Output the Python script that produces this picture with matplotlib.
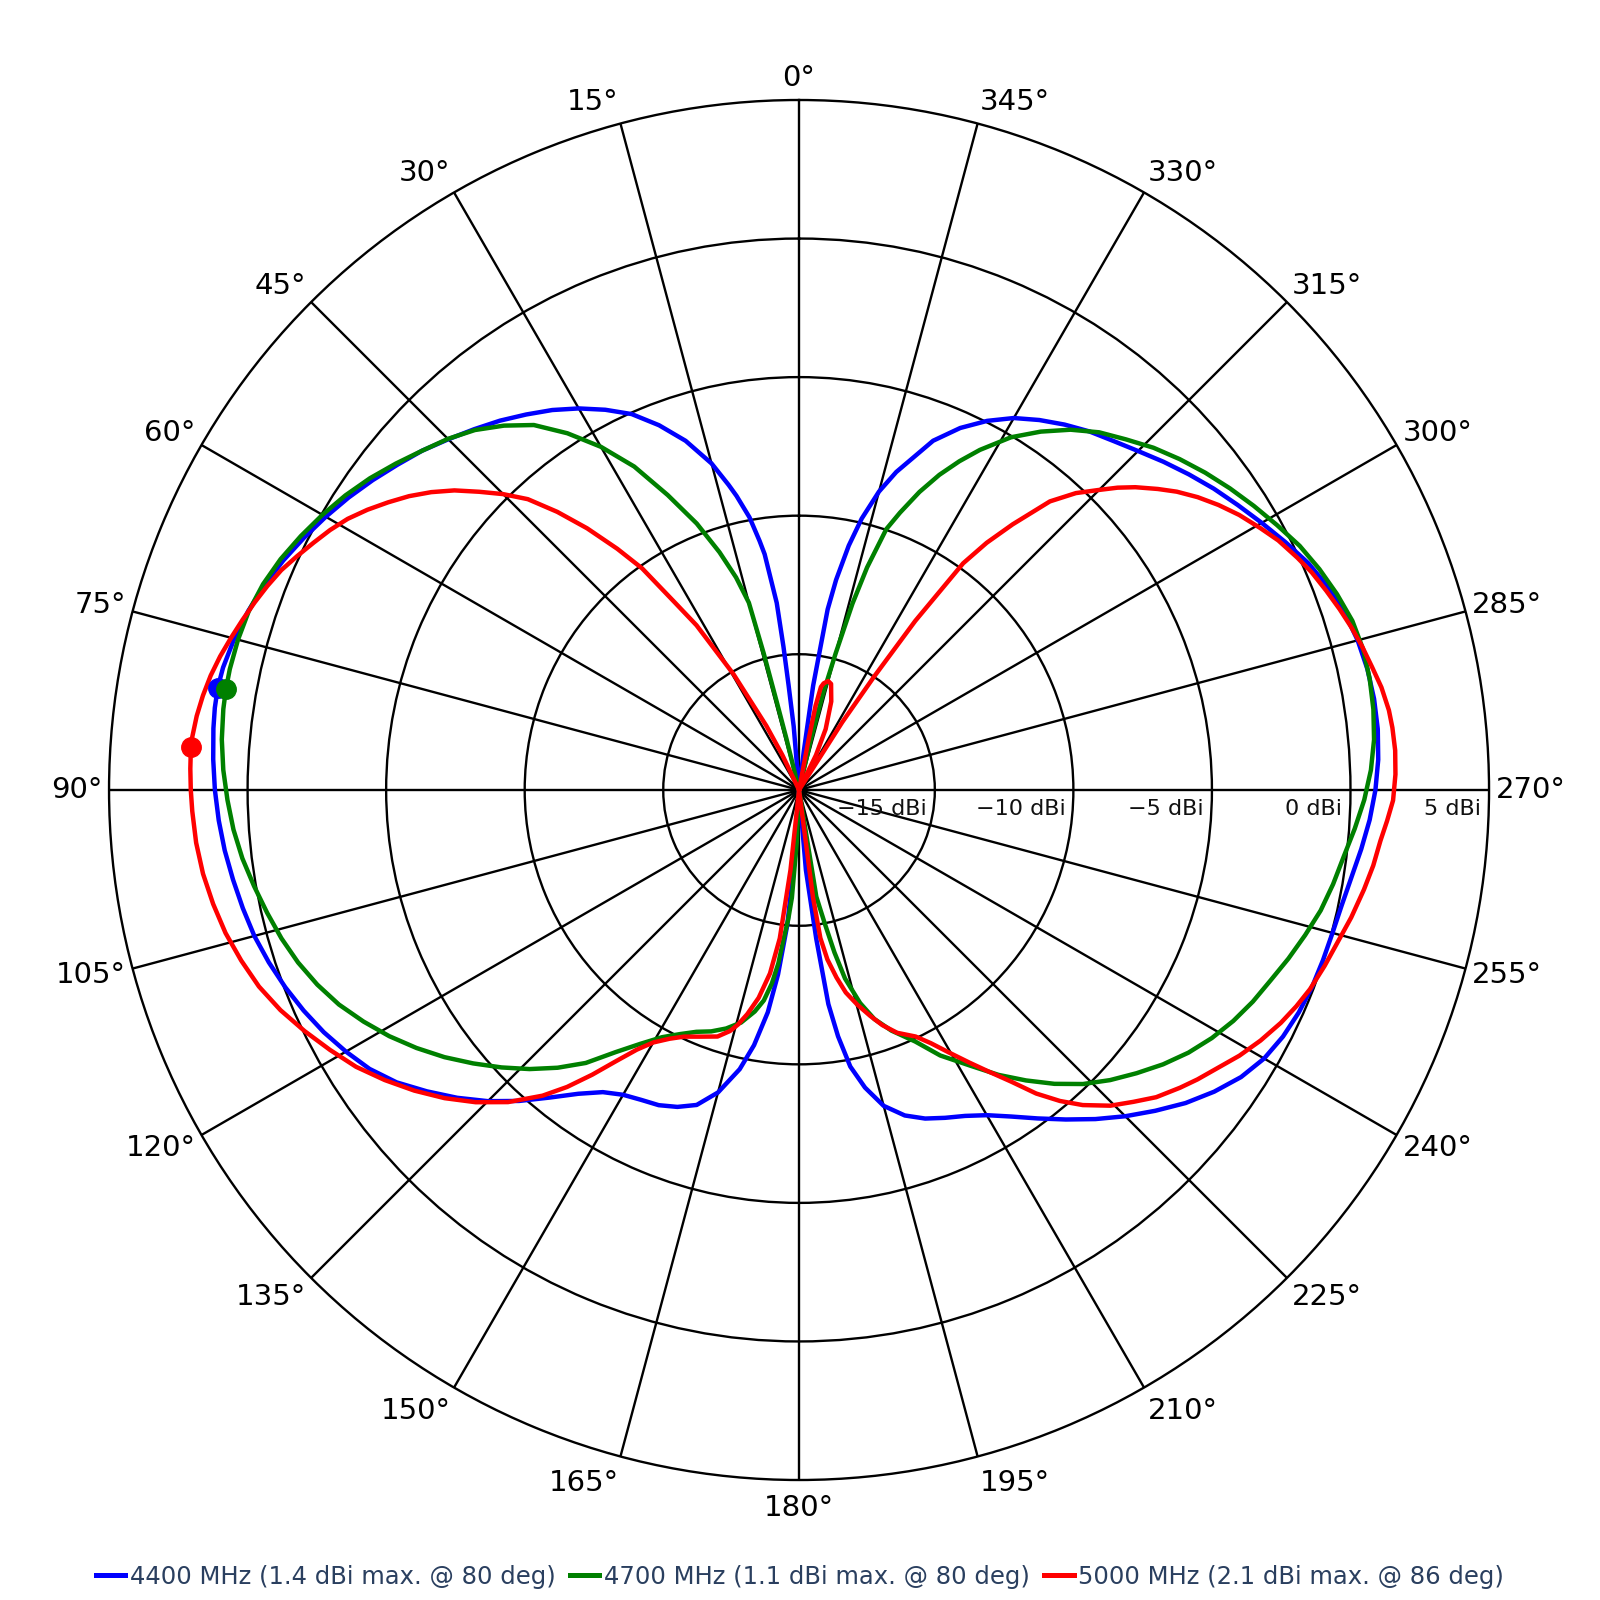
import numpy as np
import matplotlib
matplotlib.use("Agg")
import matplotlib.pyplot as plt
from matplotlib.lines import Line2D

# ---------------- data (angle in degrees, gain in dBi) ----------------
theta_4400 = [0, 4.0, 4.8, 5.7, 6.2, 6.8, 8.3, 9, 10.3, 12, 13.0, 15, 18, 21, 24, 27, 30, 33, 36,
              39, 42, 45, 48, 51, 54, 57, 60, 63, 66, 69, 72, 75, 78, 80, 82, 84, 87, 90, 93,
              96, 99, 102, 105, 108, 111, 114, 117, 120, 123, 126, 129, 132, 135, 138, 141,
              144, 147, 150, 153, 156, 159, 162, 165, 168, 170, 172, 173.5, 175, 176.5, 177.5,
              182.5, 184.9, 186.6, 187.8, 189, 190.5, 192.5, 195, 198, 201, 204, 207, 210, 213,
              216, 219, 222, 225, 228, 231, 234, 237, 240, 243, 246, 249, 252, 255, 258, 261,
              264, 267, 270, 273, 276, 279, 282, 285, 288, 291, 294, 297, 300, 303, 306, 309,
              312, 315, 318, 321, 324, 327, 330, 333, 336, 339, 341, 343, 345, 347, 348.5, 350,
              351, 352.3, 353, 354, 360]
gain_4400 = [-19.9, -19.9, -17.6, -16.1, -14.7, -13.1, -11.3, -10.8, -9.9, -9.05, -8.6, -7.7,
             -6.65, -5.8, -5.05, -4.5, -4.0, -3.55, -3.15, -2.75, -2.38, -2.0, -1.6, -1.25,
             -0.88, -0.52, -0.18, 0.15, 0.47, 0.76, 1.0, 1.2, 1.35, 1.4, 1.39, 1.35, 1.27,
             1.18, 1.07, 0.94, 0.78, 0.62, 0.45, 0.22, -0.04, -0.33, -0.65, -1.02, -1.42,
             -1.95, -2.62, -3.3, -4.02, -4.8, -5.62, -6.35, -6.9, -7.2, -7.35, -7.45, -7.65,
             -7.95, -8.6, -9.6, -10.55, -11.8, -13.2, -15.0, -17.5, -19.9,
             -19.9, -17.0, -14.5, -12.1, -10.9, -9.75, -8.9, -8.1, -7.55, -7.2, -6.95, -6.7,
             -6.35, -5.85, -5.25, -4.6, -3.92, -3.25, -2.6, -1.95, -1.38, -0.88, -0.52, -0.3,
             -0.16, -0.07, -0.02, 0.03, 0.12, 0.28, 0.5, 0.72, 0.9, 1.03, 1.1, 1.11, 1.07,
             0.97, 0.8, 0.55, 0.22, -0.2, -0.62, -1.02, -1.4, -1.8, -2.2, -2.6, -2.95, -3.25,
             -3.6, -3.98, -4.4, -4.95, -5.6, -6.4, -7.2, -7.9, -8.75, -9.85, -10.9, -12.2,
             -13.3, -16.1, -18.5, -19.9, -19.9]

theta_4700 = [0, 12.5, 13.8, 14.2, 14.5, 15.0, 16.5, 18.5, 21, 24, 27, 30, 33, 36, 39, 42, 45,
              48, 51, 54, 57, 60, 63, 66, 69, 72, 75, 78, 80, 82, 85, 88, 91, 94, 97, 100, 103,
              106, 109, 112, 115, 118, 121, 124, 127, 130, 133, 136, 139, 142, 145, 148, 151,
              154, 157, 160, 163, 166, 168.7, 170.5, 172, 173.2, 174.1, 175.2, 176.2, 177.5,
              178.5, 187.0, 189.2, 190.9, 192.3, 193.7, 196, 198.2, 201, 204.8, 208, 211.8,
              215, 218, 221, 224, 227, 230, 233, 236, 239, 242, 245, 248, 251, 254, 257, 260,
              263, 266, 269, 272, 275, 278, 281, 284, 287, 290, 293, 296, 299, 302, 305, 308,
              311, 314, 317, 320, 323, 326, 329, 332, 334, 336, 338, 340, 341.5, 343, 344, 345,
              346, 346.8, 348, 360]
gain_4700 = [-19.9, -19.9, -18.0, -16.6, -14.8, -12.9, -11.9, -10.85, -9.6, -8.25, -6.8, -5.6,
             -4.55, -3.62, -2.98, -2.42, -1.98, -1.6, -1.18, -0.76, -0.38, -0.04, 0.28, 0.58,
             0.82, 0.98, 1.06, 1.1, 1.1, 1.08, 1.01, 0.89, 0.73, 0.56, 0.34, 0.07, -0.2,
             -0.47, -0.78, -1.15, -1.58, -2.1, -2.65, -3.25, -3.88, -4.55, -5.22, -5.9, -6.62,
             -7.4, -8.35, -9.1, -9.7, -10.1, -10.42, -10.63, -10.9, -11.25, -11.75, -12.2,
             -12.85, -13.6, -14.5, -15.2, -16.0, -18.0, -19.9,
             -19.9, -16.0, -15.0, -13.9, -12.9, -11.9, -11.2, -10.6, -9.9, -9.05, -8.2, -7.35,
             -6.6, -5.85, -5.15, -4.55, -4.0, -3.45, -2.95, -2.52, -2.15, -1.83, -1.55, -1.22,
             -0.9, -0.58, -0.33, -0.1, 0.2, 0.5, 0.75, 0.93, 1.03, 1.08, 1.08, 0.98, 0.76,
             0.5, 0.2, -0.18, -0.55, -0.92, -1.3, -1.7, -2.12, -2.6, -3.05, -3.62, -4.3,
             -5.05, -6.0, -6.7, -7.45, -8.3, -9.25, -9.97, -11.5, -12.9, -14.8, -16.3, -18.0,
             -19.9, -19.9]

theta_5000 = [0, 24.0, 25.5, 27.0, 29.5, 31.9, 33.5, 35.3, 37, 39, 41, 43, 45, 47, 49, 51, 53,
              55, 57, 59, 61, 63, 65, 67, 69, 71, 73, 75, 77, 79, 81, 83, 85, 86, 88, 90, 92,
              95, 98, 101, 104, 107, 110, 113, 116, 119, 122, 125, 128, 131, 134, 137, 140, 142,
              144, 146, 148, 150, 152.5, 155, 158, 161.7, 164, 165.4, 167, 169, 171, 172.6,
              173.9, 175.0, 185.5, 187.4, 188.2, 189.5, 191.3, 193, 195.2, 197.5, 199.5, 202,
              205.3, 207.5, 209.7, 212, 214.1, 216, 218, 220, 222, 224.6, 227, 229.3, 232, 234,
              236.5, 238.9, 241.5, 244.2, 246.5, 248.7, 251.5, 254.5, 257, 260, 262.5, 265, 267,
              269, 271.5, 273.8, 276, 277.7, 280, 282.1, 284.3, 286.4, 288.5, 290.7, 293, 295,
              297.5, 299.6, 302, 304.2, 306.3, 308.3, 310, 312, 313.5, 315.1, 317, 319, 321.2,
              322.8, 324.1, 325.5, 326.5, 327.5, 328.5, 333.0, 334.1, 336.4, 340.0, 343.2,
              345.0, 347.0, 348.0, 348.9, 349.3, 350.0, 360]
gain_5000 = [-19.9, -19.9, -18.5, -17.3, -15.1, -12.9, -11.8, -10.1, -9.0, -7.75, -6.6, -5.55,
             -4.8, -4.12, -3.42, -2.82, -2.28, -1.8, -1.33, -0.9, -0.55, -0.24, 0.08, 0.4,
             0.65, 0.88, 1.1, 1.32, 1.54, 1.73, 1.88, 2.0, 2.08, 2.1, 2.08, 2.05, 2.01, 1.94,
             1.82, 1.64, 1.43, 1.15, 0.84, 0.43, -0.05, -0.55, -1.05, -1.65, -2.28, -2.95,
             -3.68, -4.5, -5.5, -6.3, -7.2, -8.1, -8.85, -9.38, -9.78, -10.08, -10.3, -10.53,
             -10.85, -11.15, -11.6, -12.26, -13.2, -14.5, -17.0, -19.9,
             -19.9, -16.0, -14.5, -13.7, -13.0, -12.4, -11.87, -11.35, -10.9, -10.45, -10.06,
             -9.6, -9.0, -8.3, -7.6, -6.9, -6.0, -5.25, -4.6, -3.9, -3.4, -2.9, -2.45, -2.13,
             -1.75, -1.34, -0.95, -0.59, -0.33, -0.11, 0.1, 0.32, 0.55, 0.8, 1.0, 1.16, 1.35,
             1.54, 1.63, 1.66, 1.63, 1.58, 1.44, 1.25, 1.07, 0.88, 0.67, 0.44, 0.2, -0.06,
             -0.4, -0.76, -1.17, -1.6, -2.05, -2.53, -3.0, -3.57, -4.05, -4.62, -5.25, -6.1,
             -7.6, -8.7, -9.8, -12.5, -15.0, -17.0, -19.9, -19.9, -18.5, -17.5, -16.5, -15.9,
             -15.83, -15.95, -16.1, -16.8, -18.0, -19.9, -19.9]

series_names = ["4400 MHz", "4700 MHz", "5000 MHz"]
peak_gain = [1.4, 1.1, 2.1]
peak_angle = [80, 80, 86]
colors = ["#0000ff", "#008000", "#ff0000"]
angle_ticks = list(range(0, 360, 15))
radial_ticks = [-15, -10, -5, 0, 5]
r_min, r_max = -19.9, 5

thetas = [theta_4400, theta_4700, theta_5000]
gains = [gain_4400, gain_4700, gain_5000]

# ---------------- figure ----------------
fig = plt.figure(figsize=(16, 16), dpi=100)
fig.patch.set_facecolor("white")
ax = fig.add_axes([0.06815, 0.075, 0.8625, 0.8625], projection="polar")
ax.set_theta_zero_location("N")
ax.set_theta_direction(1)
ax.set_ylim(r_min, r_max)

ax.set_xticks(np.deg2rad(angle_ticks))
ax.set_xticklabels([])
ax.set_yticks([t for t in radial_ticks if t < r_max])
ax.set_yticklabels([])
ax.tick_params(axis="both", length=0)
ax.grid(True, color="black", linewidth=1.7)
ax.spines["polar"].set_color("black")
ax.spines["polar"].set_linewidth(1.7)

for th, g, col in zip(thetas, gains, colors):
    ax.plot(np.deg2rad(th), g, color=col, linewidth=3.2, solid_joinstyle="round",
            solid_capstyle="round", zorder=3)
for pa, pg, col in zip(peak_angle, peak_gain, colors):
    ax.plot(np.deg2rad(pa), pg, "o", color=col, markersize=14, zorder=4)

# radial tick labels (along 270 deg)
for v in radial_ticks:
    ax.annotate(f"{v} dBi".replace("-", "\u2212"), xy=(np.deg2rad(270), v),
                xytext=(-8, -9), textcoords="offset pixels", ha="right", va="top",
                fontsize=16, color="#111111", annotation_clip=False, zorder=2)

# angular tick labels
for a in angle_ticks:
    t = np.deg2rad(a)
    s, c = np.sin(t), np.cos(t)
    pad_x = 7
    pad_v = 14.0 - 2.5 * c
    dx = -s * pad_x
    dy = c * (pad_v + 11)
    if abs(s) < 1e-6:
        ha = "center"
    else:
        ha = "right" if s > 0 else "left"
    ax.annotate(f"{a}\u00b0", xy=(t, r_max), xytext=(dx, dy), textcoords="offset pixels",
                ha=ha, va="center", fontsize=21, color="black", annotation_clip=False)

handles = [Line2D([], [], color=col, linewidth=3.6) for col in colors]
labels = [f"{n} ({pg} dBi max. @ {pa} deg)" for n, pg, pa in zip(series_names, peak_gain, peak_angle)]
fig.legend(handles, labels, loc="center", bbox_to_anchor=(0.5, 1 - 1577 / 1600), ncol=3,
           frameon=False, fontsize=17.5, handlelength=1.2, handletextpad=0.2,
           columnspacing=0.6, labelcolor="#2a3f5f")

fig.savefig("out.png", dpi=100, facecolor="white")
